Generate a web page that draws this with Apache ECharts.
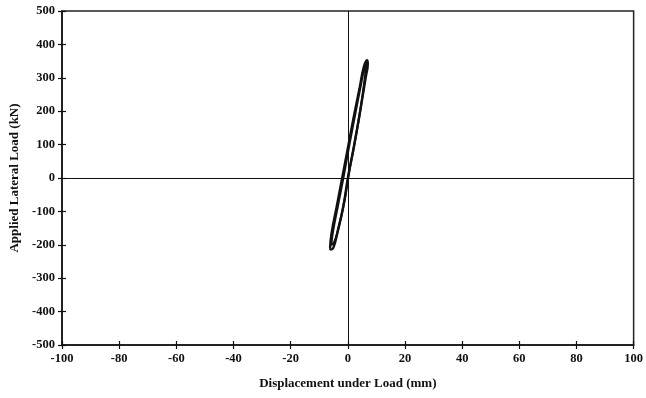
<!DOCTYPE html>
<html><head><meta charset="utf-8">
<script src="https://cdn.jsdelivr.net/npm/echarts@6/dist/echarts.min.js"></script>
<style>html,body{margin:0;padding:0;background:#fff}#c{width:646px;height:398px}</style>
</head><body><div id="c"></div>
<script>
// Hysteresis loop 1 (displacement mm, load kN)
const loop1X = [-6.2,-5.7,-3.9,-1.9,0.1,2.1,4.2,5.6,6.7,7.0,6.3,4.2,1.9,0.1,-1.6,-3.7,-5.1,-6.0,-6.2];
const loop1Y = [-210,-166,-86,4,94,184,273,333,353,343,303,194,84,4,-86,-166,-210,-214,-210];
// Hysteresis loop 2 (second cycle, slightly offset)
const loop2X = [-5.8,-5.2,-3.4,-1.4,0.5,2.5,4.5,5.9,6.6,6.2,4.5,2.3,0.5,-1.2,-3.3,-4.9,-5.8];
const loop2Y = [-200,-160,-80,8,98,188,276,334,350,315,210,100,20,-70,-150,-195,-200];
const xTicks = {min:-100, max:100, interval:20};
const yTicks = {min:-500, max:500, interval:100};

function pairs(xs, ys){ return xs.map((x,i)=>[x, ys[i]]); }

const font = '"Liberation Serif","Times New Roman",serif';
const chart = echarts.init(document.getElementById('c'));
const labelStyle = {color:'#111', fontFamily:font, fontWeight:'bold', fontSize:12.5};
const tickStyle = {color:'#111', width:1.2};
chart.setOption({
  animation:false,
  backgroundColor:'#fff',
  grid:{left:60, right:10, top:11, bottom:53, show:true, borderColor:'#222', borderWidth:1.5},
  xAxis:[{
    type:'value', min:xTicks.min, max:xTicks.max, interval:xTicks.interval,
    axisLine:{onZero:false, lineStyle:{color:'#111', width:1.5}},
    axisTick:{show:true, length:4, lineStyle:tickStyle},
    splitLine:{show:false},
    axisLabel:Object.assign({margin:7}, labelStyle),
    name:'Displacement under Load (mm)', nameLocation:'middle', nameGap:32,
    nameTextStyle:{color:'#111', fontFamily:font, fontWeight:'bold', fontSize:13}
  },{
    type:'value', min:xTicks.min, max:xTicks.max, interval:xTicks.interval, position:'bottom',
    axisLine:{show:false, onZero:false}, axisTick:{show:true, inside:true, length:4, lineStyle:tickStyle},
    axisLabel:{show:false}, splitLine:{show:false}
  }],
  yAxis:[{
    type:'value', min:yTicks.min, max:yTicks.max, interval:yTicks.interval,
    axisLine:{onZero:false, lineStyle:{color:'#111', width:1.5}},
    axisTick:{show:true, length:4, lineStyle:tickStyle},
    splitLine:{show:false},
    axisLabel:Object.assign({margin:7}, labelStyle),
    name:'Applied Lateral Load (kN)', nameLocation:'middle', nameGap:41, nameRotate:90,
    nameTextStyle:{color:'#111', fontFamily:font, fontWeight:'bold', fontSize:13}
  },{
    type:'value', min:yTicks.min, max:yTicks.max, interval:yTicks.interval, position:'left',
    axisLine:{show:false, onZero:false}, axisTick:{show:true, inside:true, length:4, lineStyle:tickStyle},
    axisLabel:{show:false}, splitLine:{show:false}
  }],
  series:[{
    type:'line', data:pairs(loop1X, loop1Y), smooth:true, showSymbol:false,
    lineStyle:{color:'#111', width:2.4},
    markLine:{silent:true, symbol:'none', label:{show:false},
      lineStyle:{color:'#111', width:1, type:'solid'},
      data:[{xAxis:0},{yAxis:0}]}
  },{
    type:'line', data:pairs(loop2X, loop2Y), smooth:true, showSymbol:false,
    lineStyle:{color:'#111', width:2.2}
  }]
});
</script></body></html>
